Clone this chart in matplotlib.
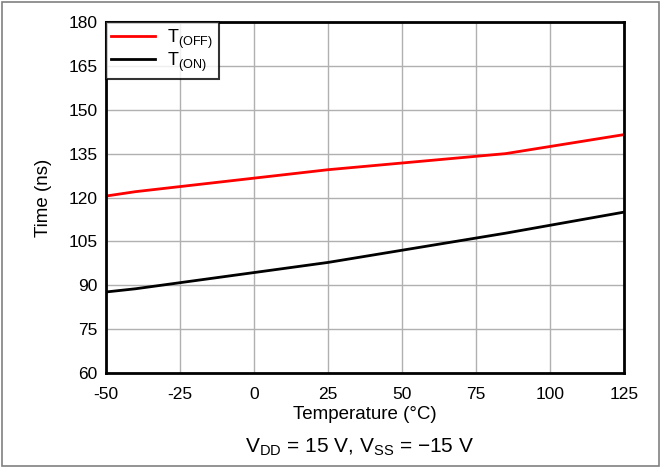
import matplotlib
matplotlib.use("Agg")
import matplotlib.pyplot as plt
from matplotlib.patches import Rectangle

plt.rcParams['font.family'] = ['Liberation Sans', 'DejaVu Sans']
plt.rcParams['axes.unicode_minus'] = False
plt.rcParams['mathtext.fontset'] = 'custom'
plt.rcParams['mathtext.rm'] = 'Liberation Sans'

temp_off = [-50, -40, 25, 85, 125]
t_off = [120.5, 122.0, 129.5, 135.0, 141.5]
temp_on = [-50, -40, 25, 85, 125]
t_on = [87.7, 88.8, 97.8, 107.8, 115.0]
xticks = [-50, -25, 0, 25, 50, 75, 100, 125]
yticks = [60, 75, 90, 105, 120, 135, 150, 165, 180]

fig = plt.figure(figsize=(6.62, 4.68), dpi=100)
ax = fig.add_axes([106/662, 1-373/468, (624-106)/662, (373-22)/468])

ax.plot(temp_off, t_off, color='#ff0000', lw=2, label='T$_{\\mathregular{(OFF)}}$')
ax.plot(temp_on, t_on, color='black', lw=2, label='T$_{\\mathregular{(ON)}}$')

ax.set_xlim(-50, 125)
ax.set_ylim(60, 180)
ax.set_xticks(xticks)
ax.set_yticks(yticks)
ax.grid(True, color='#b0b0b0', lw=1)
ax.tick_params(labelsize=12.5, length=0)
ax.tick_params(axis='x', pad=10)
ax.tick_params(axis='y', pad=6)
for s in ax.spines.values():
    s.set_linewidth(2)
    s.set_color('black')
ax.set_xlabel('Temperature (°C)', fontsize=13.5, labelpad=3)
ax.set_ylabel('Time (ns)', fontsize=13.5, labelpad=12)

leg = ax.legend(loc='upper left', fontsize=13, frameon=True, fancybox=False,
                borderaxespad=0, handlelength=2.4, handletextpad=0.7,
                labelspacing=0.0, borderpad=0.3)
leg.get_frame().set_edgecolor('black')
leg.get_frame().set_linewidth(1.5)

fig.text(360/662, 1-447/468, 'V$_{\\mathregular{DD}}$ = 15 V, V$_{\\mathregular{SS}}$ = \u221215 V',
         ha='center', va='center', fontsize=15)

fig.patches.append(Rectangle((2/662, 2/468), 657/662, 464/468, transform=fig.transFigure,
                             fill=False, edgecolor='#808080', lw=1.2))

fig.savefig('out.png', dpi=100)
